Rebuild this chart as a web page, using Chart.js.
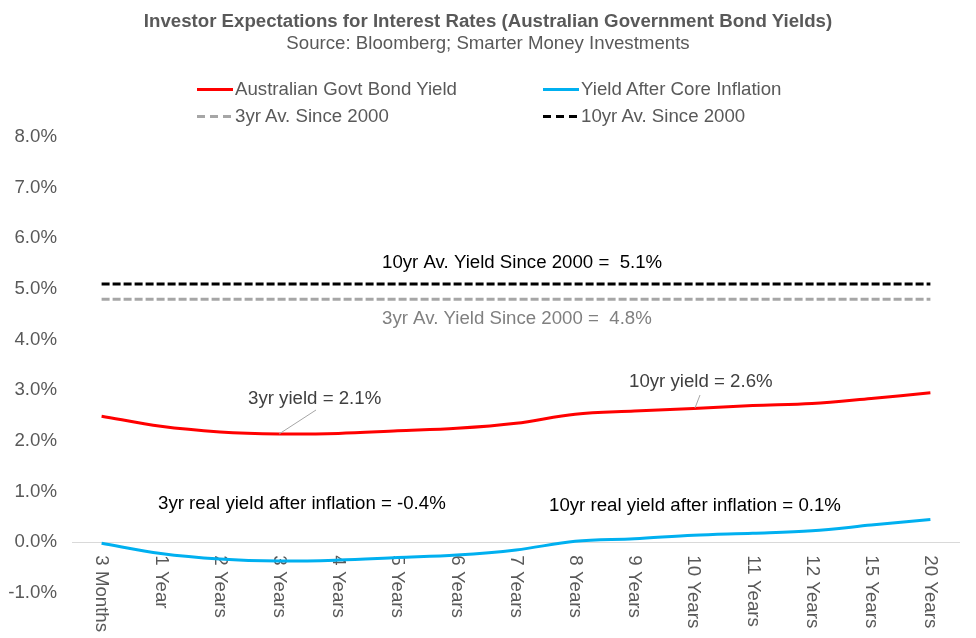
<!DOCTYPE html>
<html>
<head>
<meta charset="utf-8">
<script src="https://cdn.jsdelivr.net/npm/chart.js@4.4.1/dist/chart.umd.min.js"></script>
<style>
  html, body { margin: 0; padding: 0; background: #fff; }
  #wrap { position: relative; width: 976px; height: 638px; overflow: hidden; font-family: "Liberation Sans", Arial, sans-serif; }
  #c { position: absolute; left: 0; top: 0; }
  .t { position: absolute; white-space: pre; line-height: 22px; height: 22px; }
  .title { left: 0; width: 976px; text-align: center; color: #595959; font-size: 18.67px; }
  .leg { color: #595959; font-size: 18.67px; }
  .sw { position: absolute; width: 36px; height: 3px; }
</style>
</head>
<body>
<div id="wrap">
  <canvas id="c" width="976" height="638"></canvas>
  <div class="t title" style="top:10px;font-weight:bold;">Investor Expectations for Interest Rates (Australian Government Bond Yields)</div>
  <div class="t title" style="top:32px;">Source: Bloomberg; Smarter Money Investments</div>
  <div id="legend"></div>
</div>
<script>
const categories = ['3 Months','1 Year','2 Years','3 Years','4 Years','5 Years','6 Years','7 Years','8 Years','9 Years','10 Years','11 Years','12 Years','15 Years','20 Years'];
const bondYield = [2.49,2.29,2.18,2.14,2.15,2.20,2.25,2.35,2.53,2.59,2.64,2.70,2.74,2.84,2.95];
const realYield = [-0.02,-0.22,-0.33,-0.37,-0.35,-0.30,-0.25,-0.15,0.02,0.07,0.14,0.18,0.23,0.34,0.45];
const avg3yr = [4.8,4.8,4.8,4.8,4.8,4.8,4.8,4.8,4.8,4.8,4.8,4.8,4.8,4.8,4.8];
const avg10yr = [5.1,5.1,5.1,5.1,5.1,5.1,5.1,5.1,5.1,5.1,5.1,5.1,5.1,5.1,5.1];
const yTicks = [-1,0,1,2,3,4,5,6,7,8];
const seriesNames = ['Australian Govt Bond Yield','Yield After Core Inflation','3yr Av. Since 2000','10yr Av. Since 2000'];
const annotations = [
  {text:'10yr Av. Yield Since 2000 =  5.1%', x:382, y:263, color:'#000000'},
  {text:'3yr Av. Yield Since 2000 =  4.8%', x:382, y:319, color:'#808080'},
  {text:'3yr yield = 2.1%', x:248, y:399, color:'#404040'},
  {text:'10yr yield = 2.6%', x:629, y:382, color:'#404040'},
  {text:'3yr real yield after inflation = -0.4%', x:158, y:504, color:'#000000'},
  {text:'10yr real yield after inflation = 0.1%', x:549, y:506, color:'#000000'}
];

const FONT = '"Liberation Sans", Arial, sans-serif';

// legend (HTML)
const legendItems = [
  {name: seriesNames[0], x:197, y:89, style:'background:#FF0000;'},
  {name: seriesNames[1], x:543, y:89, style:'background:#00B0F0;'},
  {name: seriesNames[2], x:197, y:116, style:'background:repeating-linear-gradient(to right,#A6A6A6 0 8px,transparent 8px 13px);'},
  {name: seriesNames[3], x:543, y:116, style:'background:repeating-linear-gradient(to right,#000000 0 8px,transparent 8px 13px);'}
];
const legEl = document.getElementById('legend');
legendItems.forEach(it => {
  const sw = document.createElement('div');
  sw.className = 'sw';
  sw.style.cssText = it.style + 'left:' + it.x + 'px;top:' + (it.y - 1.5) + 'px;';
  legEl.appendChild(sw);
  const tx = document.createElement('div');
  tx.className = 't leg';
  tx.style.left = (it.x + 38) + 'px';
  tx.style.top = (it.y - 11) + 'px';
  tx.textContent = it.name;
  legEl.appendChild(tx);
});

const overlay = {
  id: 'overlay',
  beforeDatasetsDraw(chart) {
    const ctx = chart.ctx;
    const xs = chart.scales.x, ys = chart.scales.y;
    const y0 = ys.getPixelForValue(0);
    // x category labels, rotated clockwise, drawn under the lines
    ctx.save();
    ctx.font = '18.67px ' + FONT;
    ctx.fillStyle = '#595959';
    ctx.textAlign = 'left';
    ctx.textBaseline = 'middle';
    categories.forEach((c, i) => {
      const x = xs.getPixelForValue(i);
      ctx.save();
      ctx.translate(x, y0 + 13);
      ctx.rotate(Math.PI / 2);
      ctx.fillText(c, 0, 0);
      ctx.restore();
    });
    ctx.restore();
  },
  afterDatasetsDraw(chart) {
    const ctx = chart.ctx;
    const xs = chart.scales.x, ys = chart.scales.y;
    // leader lines
    ctx.save();
    ctx.strokeStyle = '#A6A6A6';
    ctx.lineWidth = 1;
    ctx.beginPath();
    ctx.moveTo(316, 410);
    ctx.lineTo(xs.getPixelForValue(3), ys.getPixelForValue(bondYield[3]));
    ctx.moveTo(700, 395);
    ctx.lineTo(695, 408);
    ctx.stroke();
    ctx.restore();
    // annotation text
    ctx.save();
    ctx.font = '18.67px ' + FONT;
    ctx.textAlign = 'left';
    ctx.textBaseline = 'middle';
    annotations.forEach(a => {
      ctx.fillStyle = a.color;
      ctx.fillText(a.text, a.x, a.y);
    });
    ctx.restore();
  }
};

new Chart(document.getElementById('c'), {
  type: 'line',
  data: {
    labels: categories,
    datasets: [
      {label: seriesNames[0], data: bondYield, borderColor:'#FF0000', borderWidth:3, pointRadius:0, tension:0.35, fill:false},
      {label: seriesNames[1], data: realYield, borderColor:'#00B0F0', borderWidth:3, pointRadius:0, tension:0.35, fill:false},
      {label: seriesNames[2], data: avg3yr, borderColor:'#A6A6A6', borderWidth:3, borderDash:[8,3], pointRadius:0, fill:false},
      {label: seriesNames[3], data: avg10yr, borderColor:'#000000', borderWidth:3, borderDash:[8,3], pointRadius:0, fill:false}
    ]
  },
  options: {
    responsive: false,
    animation: false,
    layout: { padding: { top: 137, bottom: 45, left: 0, right: 16 } },
    plugins: { legend: { display: false }, title: { display: false }, tooltip: { enabled: false } },
    scales: {
      x: { type: 'category', offset: true, display: false },
      y: {
        min: -1, max: 8,
        afterBuildTicks(scale) { scale.ticks = yTicks.map(v => ({value: v})); },
        afterFit(scale) { scale.width = 72; },
        border: { display: false },
        grid: {
          drawTicks: false,
          color: ctx => (ctx.tick && ctx.tick.value === 0) ? '#D9D9D9' : 'rgba(0,0,0,0)',
          lineWidth: 1
        },
        ticks: {
          padding: 15,
          color: '#595959',
          font: { family: FONT, size: 18.67 },
          callback: v => Number(v).toFixed(1) + '%'
        }
      }
    }
  },
  plugins: [overlay]
});
</script>
</body>
</html>
